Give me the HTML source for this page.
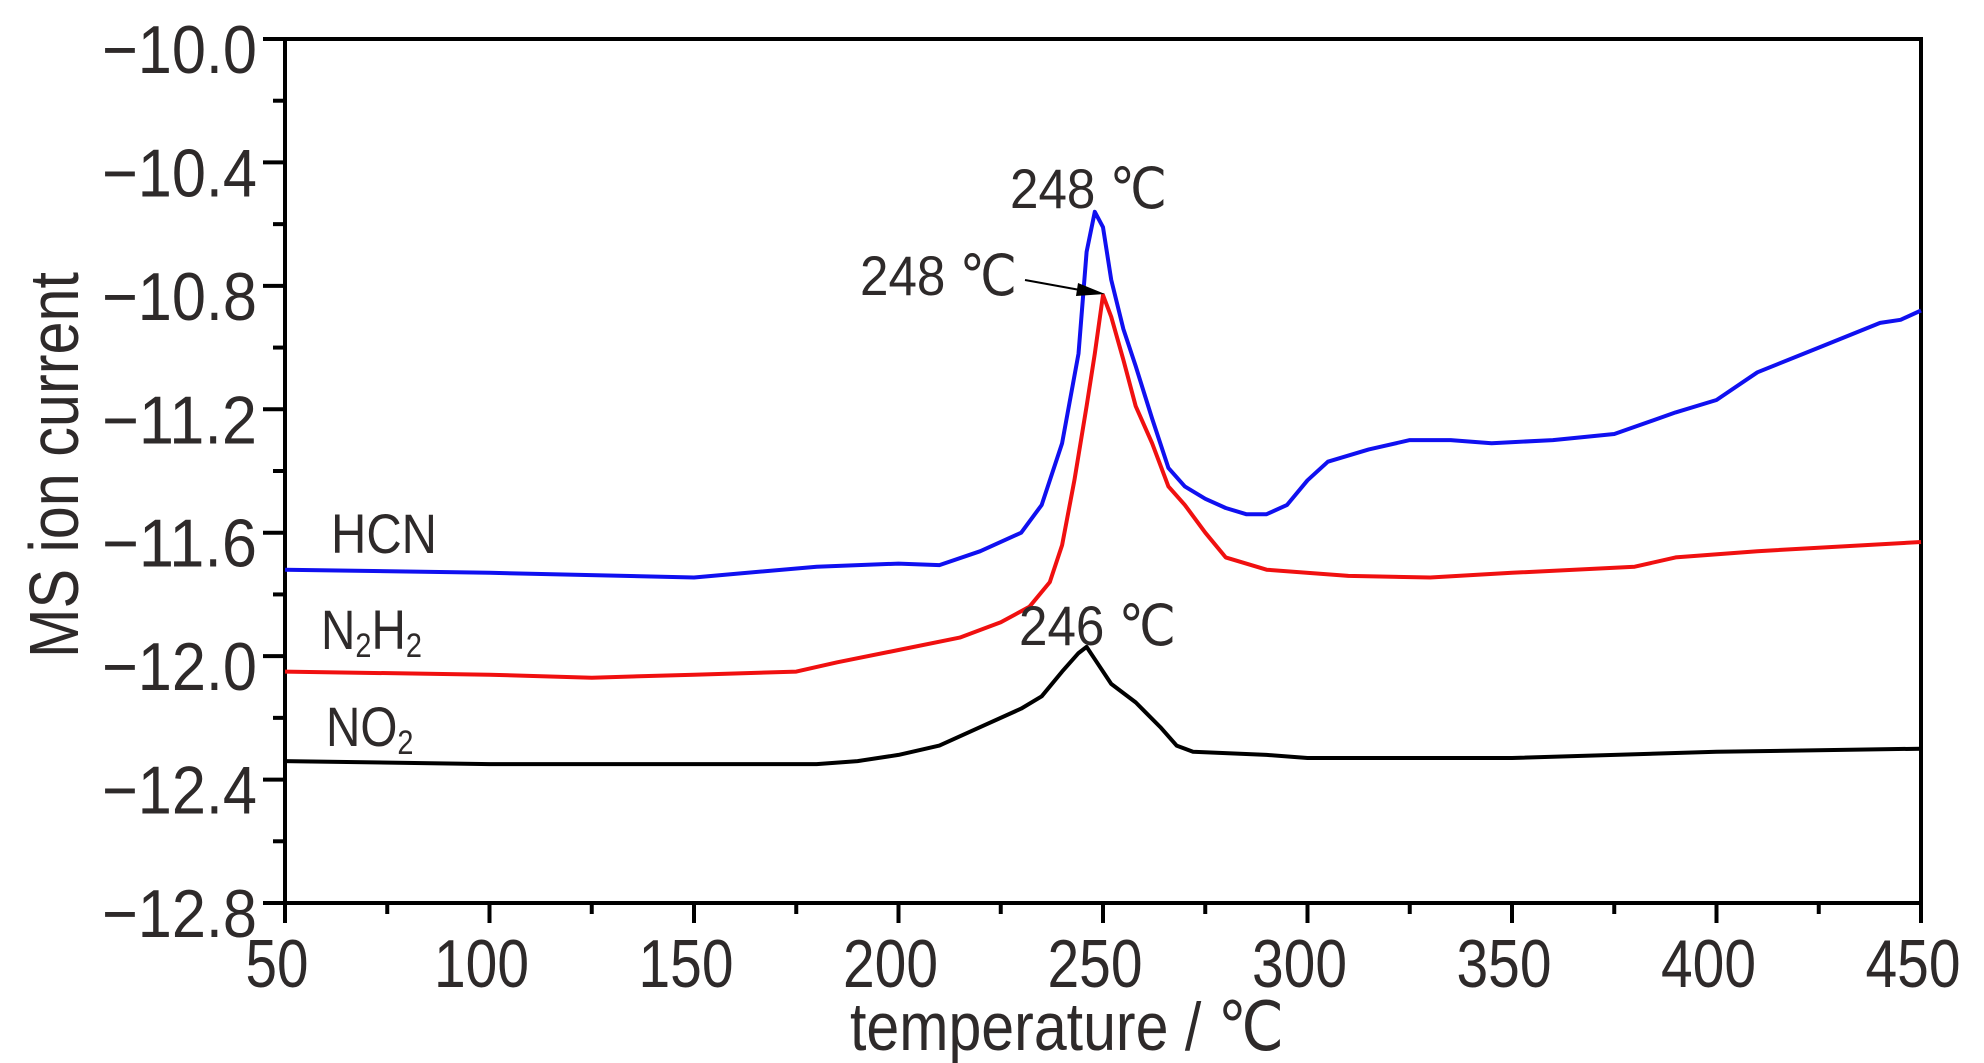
<!DOCTYPE html>
<html><head><meta charset="utf-8"><style>
html,body{margin:0;padding:0;background:#fff;}
svg{display:block;font-family:"Liberation Sans Narrow","Liberation Sans",sans-serif;}
</style></head><body>
<svg id="chart" width="1984" height="1063" viewBox="0 0 1984 1063" xmlns="http://www.w3.org/2000/svg">
<g id="grid"></g>
<g id="series"></g>
<g id="annot" fill="#2e2a2a" font-size="56">
<text x="1010" y="208" textLength="157" lengthAdjust="spacingAndGlyphs">248 ℃</text>
<text x="860" y="295" textLength="157" lengthAdjust="spacingAndGlyphs">248 ℃</text>
<line x1="1025" y1="280" x2="1080" y2="290" stroke="#000" stroke-width="2"/>
<polygon points="1105,294 1078,283 1076,296" fill="#000"/>
<text x="1019" y="645" textLength="157" lengthAdjust="spacingAndGlyphs">246 ℃</text>
<text x="331" y="553" textLength="106" lengthAdjust="spacingAndGlyphs">HCN</text>
<text x="321" y="649" transform="translate(321,0) scale(0.85,1) translate(-321,0)">N<tspan font-size="34" dy="8">2</tspan><tspan dy="-8">H</tspan><tspan font-size="34" dy="8">2</tspan></text>
<text x="326" y="746" transform="translate(326,0) scale(0.85,1) translate(-326,0)">NO<tspan font-size="34" dy="8">2</tspan></text>
</g>
<text x="850" y="1050" font-size="68" fill="#2e2a2a" textLength="434" lengthAdjust="spacingAndGlyphs">temperature / ℃</text>
<text transform="translate(78,658) rotate(-90)" font-size="70" fill="#2e2a2a" textLength="386" lengthAdjust="spacingAndGlyphs">MS ion current</text>
</svg>
<script>
const xTicks = [50,100,150,200,250,300,350,400,450];
const yTicks = [-10.0,-10.4,-10.8,-11.2,-11.6,-12.0,-12.4,-12.8];
const yTickLabels = ["\u221210.0","\u221210.4","\u221210.8","\u221211.2","\u221211.6","\u221212.0","\u221212.4","\u221212.8"];
const hcnT = [50,100,150,180,200,210,220,230,235,240,244,246,248,250,252,255,258,262,266,270,275,280,285,290,295,300,305,315,325,335,345,360,375,390,400,410,425,440,445,450];
const hcnV = [-11.72,-11.73,-11.745,-11.71,-11.70,-11.705,-11.66,-11.60,-11.51,-11.31,-11.02,-10.69,-10.56,-10.61,-10.78,-10.94,-11.06,-11.23,-11.39,-11.45,-11.49,-11.52,-11.54,-11.54,-11.51,-11.43,-11.37,-11.33,-11.30,-11.30,-11.31,-11.30,-11.28,-11.21,-11.17,-11.08,-11.00,-10.92,-10.91,-10.88];
const n2h2T = [50,100,125,150,175,185,200,215,225,232,237,240,243,246,248,250,252,255,258,262,266,270,275,280,290,310,330,350,380,390,410,450];
const n2h2V = [-12.05,-12.06,-12.07,-12.06,-12.05,-12.02,-11.98,-11.94,-11.89,-11.84,-11.76,-11.64,-11.43,-11.19,-11.02,-10.83,-10.90,-11.04,-11.19,-11.31,-11.45,-11.51,-11.60,-11.68,-11.72,-11.74,-11.745,-11.73,-11.71,-11.68,-11.66,-11.63];
const no2T = [50,100,180,190,200,210,220,230,235,240,244,246,248,252,258,264,268,272,290,300,350,400,450];
const no2V = [-12.34,-12.35,-12.35,-12.34,-12.32,-12.29,-12.23,-12.17,-12.13,-12.05,-11.99,-11.97,-12.01,-12.09,-12.15,-12.23,-12.29,-12.31,-12.32,-12.33,-12.33,-12.31,-12.30];

const L=285,R=1921,T=39,B=903;
const xs = t => L + (t-50)/(450-50)*(R-L);
const ys = v => T + (-10-v)/(2.8)*(B-T);
const NS="http://www.w3.org/2000/svg";
const g=document.getElementById('grid'), s=document.getElementById('series');
function mk(tag,attrs,parent){const e=document.createElementNS(NS,tag);for(const k in attrs)e.setAttribute(k,attrs[k]);parent.appendChild(e);return e;}

const frame=mk('rect',{x:L,y:T,width:R-L,height:B-T,fill:'none',stroke:'#000','stroke-width':4},g);



xTicks.forEach((t,i)=>{
  const x=xs(t);
  const tk=mk('line',{x1:x,y1:B,x2:x,y2:B+20,stroke:'#000','stroke-width':4},g);
  
  
  if(i<xTicks.length-1){
    const m=xs(t+25);
    const mt=mk('line',{x1:m,y1:B,x2:m,y2:B+11,stroke:'#000','stroke-width':4},g);
    
    
  }
  const lab=String(t);
  const w = lab.length===2 ? 63 : 95;
  const lb=mk('text',{x:x-8,y:987,'text-anchor':'middle','font-size':68,fill:'#2e2a2a',textLength:w,lengthAdjust:'spacingAndGlyphs'},g);
  lb.textContent=lab;
  
  
});
yTicks.forEach((v,i)=>{
  const y=ys(v);
  const tk=mk('line',{x1:L-22,y1:y,x2:L,y2:y,stroke:'#000','stroke-width':4},g);
  
  
  if(i<yTicks.length-1){
    const m=ys(v-0.2);
    const mt=mk('line',{x1:L-12,y1:m,x2:L,y2:m,stroke:'#000','stroke-width':4},g);
    
    
  }
  const lb=mk('text',{x:257,y:y+34,'text-anchor':'end','font-size':68,fill:'#2e2a2a',textLength:155,lengthAdjust:'spacingAndGlyphs'},g);
  lb.textContent=yTickLabels[i];
  
  
});
function line(T_,V_,color,name){
  const d=T_.map((t,i)=>(i?'L':'M')+xs(t).toFixed(1)+','+ys(V_[i]).toFixed(1)).join(' ');
  const p=mk('path',{d:d,fill:'none',stroke:color,'stroke-width':4,'stroke-linejoin':'round'},s);
  
  
}
line(no2T,no2V,'#000','no2-line');
line(n2h2T,n2h2V,'#f01010','n2h2-line');
line(hcnT,hcnV,'#1010f0','hcn-line');
</script>
</body></html>
